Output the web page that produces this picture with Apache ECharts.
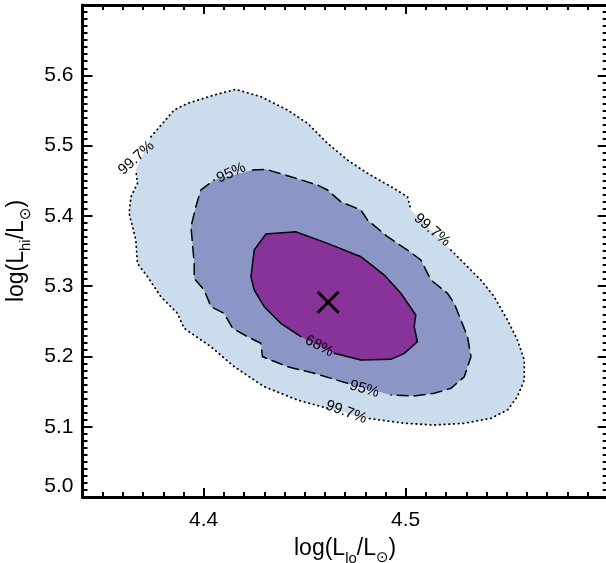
<!DOCTYPE html>
<html>
<head>
<meta charset="utf-8">
<script src="https://cdn.jsdelivr.net/npm/echarts@6/dist/echarts.min.js"></script>
<style>
html,body{margin:0;padding:0;background:#fff;}
#chart{width:606px;height:563px;}
</style>
</head>
<body>
<div id="chart"></div>
<script>
// ---- data ----
const xMajorTicks = [4.4, 4.5];
const yMajorTicks = [5.0, 5.1, 5.2, 5.3, 5.4, 5.5, 5.6];
const xRange = [4.34, 4.6];
const yRange = [5.0, 5.7];

// 99.7% contour, split into runs (gaps where labels sit)
const contour997 = [
  [[4.3739,5.5126],[4.3854,5.5506],[4.3920,5.5601],[4.4052,5.5719],[4.4159,5.5800],[4.4283,5.5695],[4.4415,5.5506],[4.4514,5.5317],[4.4613,5.5032],[4.4712,5.4794],[4.4811,5.4605],[4.4927,5.4415],[4.5009,5.4272],[4.5026,5.4083]],
  [[4.5224,5.3514],[4.5306,5.3276],[4.5372,5.3087],[4.5438,5.2850],[4.5504,5.2518],[4.5553,5.2234],[4.5587,5.1949],[4.5587,5.1665],[4.5553,5.1427],[4.5504,5.1238],[4.5422,5.1120],[4.5290,5.1049],[4.5141,5.1024],[4.4993,5.1049],[4.4811,5.1120]],
  [[4.4613,5.1262],[4.4464,5.1380],[4.4300,5.1569],[4.4151,5.1854],[4.4036,5.2138],[4.3903,5.2400],[4.3870,5.2613],[4.3788,5.2850],[4.3722,5.3134],[4.3672,5.3325],[4.3664,5.3656],[4.3631,5.4036],[4.3640,5.4272],[4.3672,5.4463],[4.3664,5.4652]]
];
// 95% contour
const contour95 = [
  [[4.4242,5.4652],[4.4308,5.4662],[4.4432,5.4557],[4.4563,5.4439],[4.4613,5.4368],[4.4679,5.4201],[4.4778,5.4083],[4.4811,5.3941],[4.4910,5.3703],[4.5009,5.3514],[4.5075,5.3372],[4.5125,5.3087],[4.5207,5.2898],[4.5240,5.2756],[4.5273,5.2518],[4.5306,5.2281],[4.5323,5.1996],[4.5290,5.1711],[4.5224,5.1546],[4.5141,5.1475],[4.5042,5.1437],[4.4927,5.1451]],
  [[4.4712,5.1618],[4.4547,5.1760],[4.4415,5.1854],[4.4291,5.1996],[4.4283,5.2187],[4.4217,5.2281],[4.4143,5.2400],[4.4101,5.2613],[4.4036,5.2707],[4.4002,5.2945],[4.3953,5.3111],[4.3953,5.3325],[4.3937,5.3845],[4.3961,5.4130],[4.3986,5.4368],[4.4052,5.4510]]
];
// 68% contour
const contour68 = [
  [[4.4481,5.2281],[4.4382,5.2471],[4.4300,5.2707],[4.4250,5.2945],[4.4234,5.3134],[4.4250,5.3514],[4.4308,5.3742],[4.4456,5.3774],[4.4613,5.3609],[4.4778,5.3419],[4.4894,5.3158],[4.4976,5.2898],[4.5050,5.2589],[4.5042,5.2423],[4.5058,5.2209],[4.4993,5.2044],[4.4927,5.1959],[4.4778,5.1949],[4.4646,5.2044]]
];

const contourLabelText = ['99.7%', '99.7%', '99.7%', '95%', '95%', '68%'];
const contourLabelPos = [[4.3666,5.4823],[4.5131,5.3799],[4.4705,5.1209],[4.4136,5.4610],[4.4795,5.1536],[4.4572,5.2148]];
const bestFit = [4.4616, 5.277];

// ---- rendering ----
const FONT = '"Liberation Sans", Arial, Helvetica, sans-serif';
const labelAngles = [42, -40, -20, 25, -16, -28];

function minorValues(a, b, step) {
  const out = [];
  const n = Math.round((b - a) / step);
  for (let i = 0; i <= n; i++) out.push(+(a + i * step).toFixed(4));
  return out;
}
const xMinor = minorValues(xRange[0], xRange[1], 0.01);
const yMinor = minorValues(yRange[0], yRange[1], 0.01);

function axisCfg(kind, pos, range, ticks, len, opts) {
  const o = {
    type: 'value', position: pos, min: range[0], max: range[1],
    gridIndex: 0,
    splitLine: {show: false},
    axisLine: {show: !!opts.line, onZero: false, lineStyle: {color: '#000', width: 3}},
    axisTick: {show: true, inside: true, length: len, customValues: ticks, lineStyle: {color: '#000', width: 2}},
    axisLabel: {show: false},
    minorTick: {show: false}
  };
  if (opts.labels) {
    o.axisLabel = {
      show: true, customValues: opts.labels, color: '#000', fontFamily: FONT, fontSize: 21,
      margin: kind === 'x' ? 13 : 9,
      formatter: v => Number(v).toFixed(1)
    };
    if (kind === 'y') o.axisLabel.verticalAlignMinLabel = 'bottom';
  }
  if (opts.name) {
    o.name = opts.name;
    o.nameLocation = 'middle';
    o.nameGap = opts.nameGap;
    if (kind === 'y') o.nameRotate = 90;
    o.nameTextStyle = {
      color: '#000', fontFamily: FONT,
      rich: {
        m: {fontSize: 23, lineHeight: 26, fontFamily: FONT, color: '#000'},
        s: {fontSize: 15, lineHeight: 15, padding: [15, 0, 0, 0], verticalAlign: 'top', fontFamily: FONT, color: '#000'},
        o: {fontSize: 15, lineHeight: 15, padding: [15, 0, 0, 0], verticalAlign: 'top', fontFamily: '"DejaVu Sans", sans-serif', color: '#000'}
      }
    };
  }
  return o;
}

const xAxes = [
  axisCfg('x', 'bottom', xRange, xMajorTicks, 9, {line: true, labels: xMajorTicks, name: '{m|log(L}{s|lo}{m|/L}{o|⊙}{m|)}', nameGap: 30}),
  axisCfg('x', 'bottom', xRange, xMinor, 5, {}),
  axisCfg('x', 'top', xRange, xMajorTicks, 9, {line: true}),
  axisCfg('x', 'top', xRange, xMinor, 5, {})
];
const yAxes = [
  axisCfg('y', 'left', yRange, yMajorTicks, 10, {line: true, labels: yMajorTicks, name: '{m|log(L}{s|hi}{m|/L}{o|⊙}{m|)}', nameGap: 50}),
  axisCfg('y', 'left', yRange, yMinor, 5, {}),
  axisCfg('y', 'right', yRange, yMajorTicks, 10, {line: true}),
  axisCfg('y', 'right', yRange, yMinor, 5, {})
];

function contourSeries(runs, fill, dash, lw, z) {
  return {
    type: 'custom', coordinateSystem: 'cartesian2d', xAxisIndex: 0, yAxisIndex: 0,
    silent: true, z: z, clip: false,
    data: [runs[0][0]],
    renderItem: function (params, api) {
      const all = [];
      runs.forEach(r => r.forEach(p => all.push(api.coord(p))));
      const children = [{type: 'polygon', shape: {points: all}, style: {fill: fill, stroke: 'none'}}];
      runs.forEach(r => {
        children.push({
          type: 'polyline', shape: {points: r.map(p => api.coord(p))},
          style: {fill: 'none', stroke: '#000', lineWidth: lw, lineDash: dash, lineCap: 'round'}
        });
      });
      return {type: 'group', children: children};
    }
  };
}

const series = [
  contourSeries(contour997, '#cbddec', [0.5, 4.2], 1.8, 2),
  contourSeries(contour95, '#8c96c6', [11, 6], 1.5, 3),
  contourSeries(contour68, '#88339a', null, 1.5, 4),
  {
    type: 'scatter', xAxisIndex: 0, yAxisIndex: 0, z: 6, silent: true,
    symbolSize: 1, itemStyle: {color: 'rgba(0,0,0,0)'},
    data: contourLabelPos.map((p, i) => ({
      value: p, name: contourLabelText[i],
      label: {rotate: labelAngles[i]}
    })),
    label: {
      show: true, position: 'inside', formatter: p => p.name,
      color: '#000', fontFamily: FONT, fontSize: 15,
      textBorderWidth: 0, textBorderColor: 'transparent', opacity: 1
    }
  },
  {
    type: 'custom', coordinateSystem: 'cartesian2d', xAxisIndex: 0, yAxisIndex: 0, z: 7, silent: true,
    data: [bestFit],
    renderItem: function (params, api) {
      const c = api.coord([api.value(0), api.value(1)]);
      const h = 10.5;
      return {type: 'group', children: [
        {type: 'line', shape: {x1: c[0]-h, y1: c[1]-h, x2: c[0]+h, y2: c[1]+h}, style: {stroke: '#000', lineWidth: 3}},
        {type: 'line', shape: {x1: c[0]-h, y1: c[1]+h, x2: c[0]+h, y2: c[1]-h}, style: {stroke: '#000', lineWidth: 3}}
      ]};
    }
  }
];

const chart = echarts.init(document.getElementById('chart'), null, {renderer: 'canvas'});
chart.setOption({
  animation: false,
  backgroundColor: '#fff',
  grid: {left: 82.5, top: 5, width: 525.2, height: 492, containLabel: false, outerBoundsMode: 'none'},
  xAxis: xAxes,
  yAxis: yAxes,
  series: series
});
</script>
</body>
</html>
